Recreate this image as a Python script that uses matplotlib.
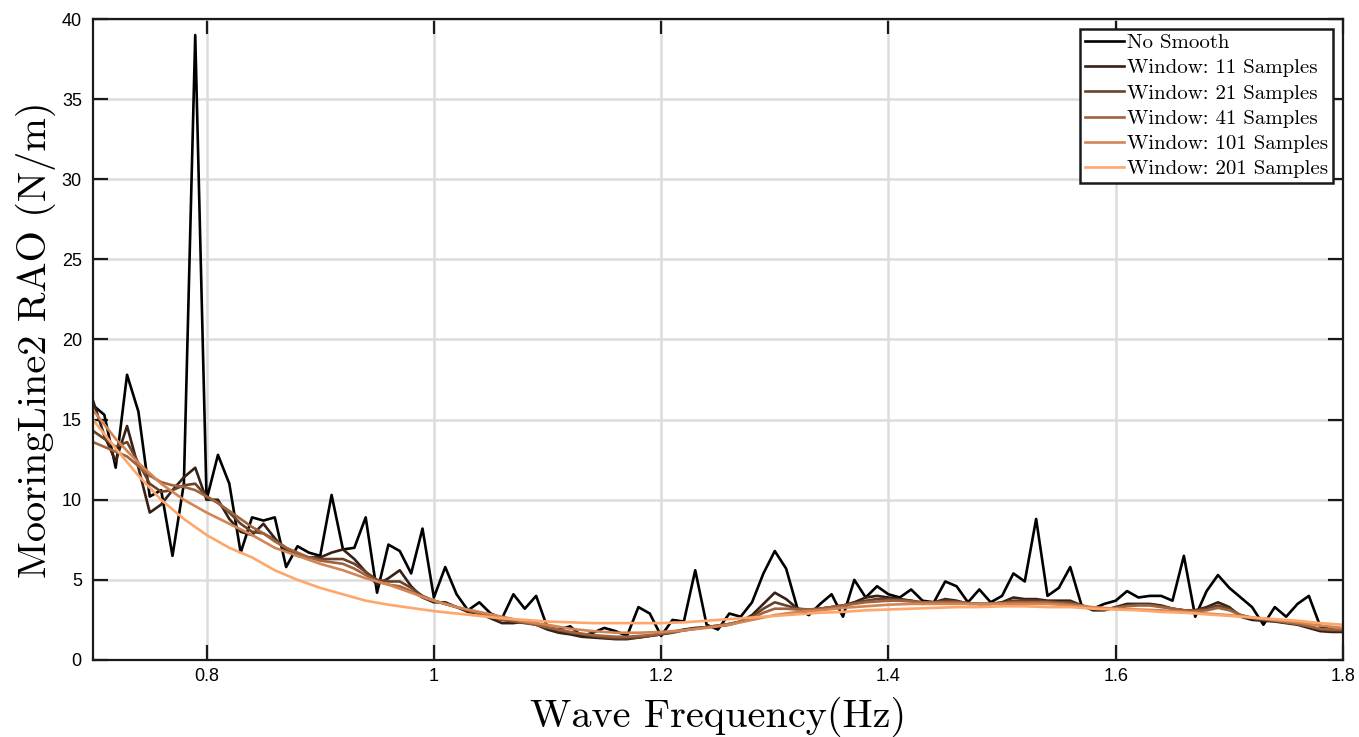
import numpy as np
import matplotlib
matplotlib.use("Agg")
import matplotlib.pyplot as plt

# frequency grids (Hz)
freq = np.round(np.arange(0.70, 1.805, 0.01), 2)
freq_coarse = np.round(np.arange(0.70, 1.805, 0.02), 2)

# raw RAO (N/m)
no_smooth = [15.9, 15.3, 12.0, 17.8, 15.5, 10.2, 10.6, 6.5, 11.0, 39.0,
             10.0, 12.8, 11.0, 6.7, 8.9, 8.7, 8.9, 5.8, 7.1, 6.7,
             6.5, 10.3, 6.9, 7.0, 8.9, 4.2, 7.2, 6.8, 5.4, 8.2,
             3.9, 5.8, 4.1, 3.1, 3.6, 2.9, 2.6, 4.1, 3.2, 4.0,
             2.0, 1.9, 2.1, 1.5, 1.7, 2.0, 1.8, 1.5, 3.3, 2.9,
             1.5, 2.5, 2.4, 5.6, 2.2, 1.9, 2.9, 2.7, 3.6, 5.4,
             6.8, 5.7, 3.2, 2.8, 3.5, 4.1, 2.7, 5.0, 3.9, 4.6,
             4.1, 3.9, 4.4, 3.7, 3.6, 4.9, 4.6, 3.6, 4.4, 3.6,
             4.0, 5.4, 4.9, 8.8, 4.0, 4.5, 5.8, 3.4, 3.2, 3.5,
             3.7, 4.3, 3.9, 4.0, 4.0, 3.7, 6.5, 2.7, 4.3, 5.3,
             4.5, 3.9, 3.3, 2.2, 3.3, 2.7, 3.5, 4.0, 2.1, 1.9,
             1.8]

win11 = [16.2, 14.0, 12.4, 14.6, 12.0, 9.2, 9.7, 10.6, 11.4, 12.0,
         10.0, 10.0, 8.8, 8.0, 7.8, 8.5, 7.6, 6.8, 6.5, 6.4,
         6.4, 6.7, 6.9, 6.3, 5.5, 4.7, 5.1, 5.6, 4.6, 3.9,
         3.6, 3.6, 3.3, 3.0, 2.9, 2.6, 2.3, 2.3, 2.4, 2.2,
         1.9, 1.7, 1.6, 1.45, 1.4, 1.35, 1.3, 1.3, 1.4, 1.5,
         1.6, 1.75, 1.9, 2.0, 2.05, 2.1, 2.2, 2.4, 2.8, 3.5,
         4.2, 3.8, 3.2, 3.1, 3.2, 3.3, 3.4, 3.6, 3.9, 4.0,
         3.9, 3.8, 3.7, 3.5, 3.6, 3.8, 3.7, 3.5, 3.5, 3.5,
         3.6, 3.9, 3.8, 3.8, 3.7, 3.7, 3.7, 3.4, 3.1, 3.1,
         3.3, 3.5, 3.5, 3.5, 3.4, 3.2, 3.1, 3.1, 3.3, 3.6,
         3.3, 2.7, 2.5, 2.45, 2.4, 2.3, 2.2, 2.0, 1.8, 1.75,
         1.75]

win21 = [14.3, 13.8, 13.3, 13.6, 12.3, 11.0, 10.5, 10.6, 10.9, 11.0,
         10.2, 9.8, 9.2, 8.5, 8.0, 7.9, 7.5, 7.0, 6.6, 6.4,
         6.3, 6.3, 6.3, 6.0, 5.5, 5.0, 4.9, 4.9, 4.5, 4.0,
         3.7, 3.5, 3.3, 3.1, 2.9, 2.7, 2.5, 2.4, 2.3, 2.2,
         2.0, 1.85, 1.7, 1.6, 1.5, 1.4, 1.35, 1.35, 1.4, 1.5,
         1.6, 1.7, 1.85, 1.95, 2.05, 2.15, 2.25, 2.4, 2.7, 3.2,
         3.6, 3.4, 3.2, 3.15, 3.2, 3.3, 3.4, 3.55, 3.7, 3.8,
         3.8, 3.75, 3.7, 3.6, 3.6, 3.7, 3.65, 3.55, 3.5, 3.5,
         3.55, 3.7, 3.7, 3.7, 3.65, 3.6, 3.6, 3.4, 3.2, 3.15,
         3.25, 3.4, 3.45, 3.45, 3.35, 3.2, 3.1, 3.1, 3.2, 3.4,
         3.2, 2.8, 2.6, 2.5, 2.45, 2.35, 2.25, 2.1, 1.9, 1.85,
         1.85]

win41 = [13.6, 13.3, 13.0, 12.7, 12.1, 11.5, 11.1, 10.9, 10.8, 10.6,
         10.2, 9.8, 9.3, 8.8, 8.3, 7.9, 7.4, 7.0, 6.7, 6.4,
         6.2, 6.1, 6.0, 5.7, 5.3, 4.9, 4.7, 4.6, 4.3, 3.9,
         3.7, 3.5, 3.3, 3.1, 2.9, 2.7, 2.55, 2.45, 2.35, 2.2,
         2.05, 1.9, 1.75, 1.65, 1.55, 1.5, 1.45, 1.45, 1.5, 1.55,
         1.65, 1.75, 1.85, 1.95, 2.05, 2.15, 2.25, 2.4, 2.6, 2.95,
         3.2, 3.2, 3.15, 3.15, 3.2, 3.3, 3.4, 3.5, 3.6, 3.65,
         3.7, 3.7, 3.65, 3.6, 3.6, 3.6, 3.6, 3.55, 3.5, 3.5,
         3.55, 3.6, 3.6, 3.6, 3.6, 3.55, 3.5, 3.4, 3.25, 3.2,
         3.25, 3.35, 3.4, 3.4, 3.3, 3.2, 3.1, 3.05, 3.1, 3.25,
         3.1, 2.8, 2.65, 2.55, 2.45, 2.35, 2.25, 2.1, 1.95, 1.9,
         1.9]

win101 = [15.6, 13.8, 12.3, 11.0, 10.0, 9.2, 8.5, 7.8, 7.0, 6.5,
          6.0, 5.6, 5.1, 4.7, 4.2, 3.7, 3.3, 3.0, 2.7, 2.4,
          2.2, 1.95, 1.8, 1.7, 1.7, 1.75, 1.85, 2.0, 2.2, 2.5,
          2.8, 3.0, 3.1, 3.25, 3.35, 3.45, 3.5, 3.5, 3.5, 3.5,
          3.5, 3.5, 3.5, 3.4, 3.3, 3.2, 3.15, 3.1, 3.0, 2.9,
          2.8, 2.65, 2.5, 2.35, 2.15, 2.0]

win201 = [15.0, 13.2, 11.5, 10.0, 8.8, 7.8, 7.0, 6.4, 5.6, 5.0,
          4.5, 4.1, 3.7, 3.45, 3.25, 3.05, 2.9, 2.75, 2.6, 2.5,
          2.4, 2.35, 2.3, 2.3, 2.3, 2.3, 2.35, 2.45, 2.55, 2.65,
          2.75, 2.85, 2.95, 3.0, 3.1, 3.15, 3.2, 3.25, 3.3, 3.3,
          3.35, 3.35, 3.3, 3.3, 3.2, 3.15, 3.1, 3.0, 2.95, 2.85,
          2.75, 2.65, 2.55, 2.45, 2.3, 2.2]

labels = ["No Smooth", "Window: 11 Samples", "Window: 21 Samples",
          "Window: 41 Samples", "Window: 101 Samples", "Window: 201 Samples"]
colors = ["#000000", "#352115", "#6a4229", "#9f643f", "#d48555", "#ffa66a"]

fig = plt.figure(figsize=(13.59, 7.37), dpi=100)
ax = fig.add_axes([0.0684, 0.1045, 0.9198, 0.8697])

series = [(freq, no_smooth), (freq, win11), (freq, win21), (freq, win41),
          (freq_coarse, win101), (freq_coarse, win201)]
for (x, y), c, lab in zip(series, colors, labels):
    ax.plot(x, y, color=c, lw=1.9, label=lab)

ax.set_xlim(0.7, 1.8)
ax.set_ylim(0, 40)
ax.set_xticks([0.8, 1.0, 1.2, 1.4, 1.6, 1.8])
ax.set_xticklabels(["0.8", "1", "1.2", "1.4", "1.6", "1.8"])
ax.set_yticks(np.arange(0, 41, 5))

ax.grid(True, color="#dcdcdc", lw=1.8)
ax.set_axisbelow(True)
for s in ax.spines.values():
    s.set_linewidth(1.6)
    s.set_color("#1a1a1a")
ax.tick_params(direction="in", length=11, width=1.6, top=True, right=True,
               labelsize=13, colors="#1a1a1a", labelcolor="black")
ax.tick_params(axis="x", pad=6)
ax.tick_params(axis="y", pad=8)
for t in ax.get_xticklabels() + ax.get_yticklabels():
    t.set_family("Liberation Sans")

ax.set_xlabel("Wave Frequency(Hz)", family="cmr10", fontsize=29, labelpad=8)
ax.set_ylabel("MooringLine2 RAO (N/m)", family="cmr10", fontsize=29, labelpad=4)

leg = ax.legend(loc="upper right", prop={"family": "cmr10", "size": 15},
                fancybox=False, framealpha=1, edgecolor="#1a1a1a",
                handlelength=1.9, handletextpad=0.15, borderpad=0.2,
                labelspacing=0.32, borderaxespad=0.5)
leg.get_frame().set_linewidth(1.8)

fig.savefig("out.png", dpi=100)
